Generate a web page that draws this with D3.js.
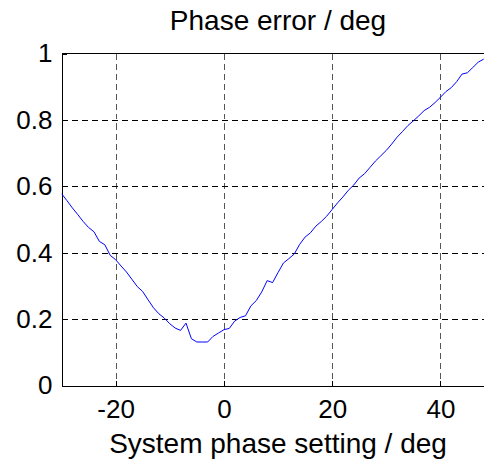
<!DOCTYPE html>
<html>
  <head>
    <title>Phase error</title>
    <script src="https://cdn.jsdelivr.net/npm/d3@7"></script>
    <style type="text/css">
      body {
        margin: 0;
        background: #fff;
        overflow: hidden;
      }

      text {
        font-family: "Liberation Sans", Arial, Helvetica, sans-serif;
        fill: #000;
      }

      .axis path, .axis line {
        stroke: #000;
        shape-rendering: crispEdges;
      }

      .axis text {
        font-size: 26px;
      }

      .label {
        font-size: 28px;
      }

      .grid-x {
        stroke: #555;
        stroke-dasharray: 6,4;
        shape-rendering: crispEdges;
      }

      .grid-y {
        stroke: #000;
        stroke-dasharray: 6,4;
        shape-rendering: crispEdges;
      }

      .line {
        fill: none;
        stroke: #0000ff;
        stroke-width: 1px;
      }
    </style>
  </head>
<body>
  <div id="chart"></div>
  <script type="text/javascript">
    // system phase setting (deg)
    var phaseSetting = [
      -30, -29, -28, -27, -26, -25, -24, -23, -22, -21,
      -20, -19, -18, -17, -16, -15, -14, -13, -12, -11,
      -10, -9, -8, -7, -6, -5, -4, -3, -2, -1,
      0, 1, 2, 3, 4, 5, 6, 7, 8, 9,
      10, 11, 12, 13, 14, 15, 16, 17, 18, 19,
      20, 21, 22, 23, 24, 25, 26, 27, 28, 29,
      30, 31, 32, 33, 34, 35, 36, 37, 38, 39,
      40, 41, 42, 43, 44, 45, 46, 47, 48
    ];
    // phase error (deg)
    var phaseError = [
      0.578, 0.557, 0.535, 0.515, 0.494, 0.476, 0.463, 0.434, 0.424, 0.392,
      0.379, 0.360, 0.342, 0.320, 0.298, 0.283, 0.258, 0.234, 0.216, 0.203,
      0.186, 0.173, 0.166, 0.188, 0.141, 0.131, 0.131, 0.131, 0.148, 0.158,
      0.168, 0.172, 0.194, 0.205, 0.210, 0.240, 0.256, 0.282, 0.316, 0.310,
      0.340, 0.369, 0.382, 0.396, 0.425, 0.447, 0.460, 0.480, 0.494, 0.510,
      0.530, 0.550, 0.568, 0.588, 0.604, 0.625, 0.638, 0.657, 0.676, 0.692,
      0.708, 0.727, 0.748, 0.765, 0.783, 0.797, 0.812, 0.828, 0.838, 0.852,
      0.868, 0.885, 0.897, 0.915, 0.938, 0.942, 0.958, 0.974, 0.983
    ];
    var xTicks = [-20, 0, 20, 40];
    var yTicks = [0, 0.2, 0.4, 0.6, 0.8, 1];
    var yTickLabels = ["0", "0.2", "0.4", "0.6", "0.8", "1"];

    var width = 484, height = 460;
    var plotLeft = 61.5, plotRight = 494.5, plotTop = 53.5, plotBottom = 385.5;

    var svg = d3.select("#chart")
      .append("svg")
      .attr("width", width)
      .attr("height", height);

    var x = d3.scaleLinear().domain([-30, 50]).range([plotLeft, plotRight]);
    var y = d3.scaleLinear().domain([0, 1]).range([plotBottom, plotTop]);

    svg.append("defs").append("clipPath")
      .attr("id", "plot-clip")
      .append("rect")
      .attr("x", plotLeft)
      .attr("y", plotTop)
      .attr("width", plotRight - plotLeft)
      .attr("height", plotBottom - plotTop);

    // grid
    svg.append("g").selectAll("line")
      .data(xTicks)
      .enter().append("line")
      .attr("class", "grid-x")
      .attr("x1", function(d) { return Math.round(x(d)) + 0.5; })
      .attr("x2", function(d) { return Math.round(x(d)) + 0.5; })
      .attr("y1", plotTop)
      .attr("y2", plotBottom);

    svg.append("g").selectAll("line")
      .data(yTicks.slice(1, -1))
      .enter().append("line")
      .attr("class", "grid-y")
      .attr("x1", plotLeft)
      .attr("x2", plotRight)
      .attr("y1", function(d) { return Math.round(y(d)) + 0.5; })
      .attr("y2", function(d) { return Math.round(y(d)) + 0.5; });

    // axes (ticks point inward like matlab)
    var xAxis = svg.append("g")
      .attr("class", "axis")
      .attr("transform", "translate(0," + plotBottom + ")")
      .call(d3.axisBottom(x).tickValues(xTicks).tickSizeInner(-5).tickSizeOuter(0).tickPadding(8)
        .tickFormat(function(d) { return d < 0 ? "-" + Math.abs(d) : d; }));
    xAxis.selectAll("text").attr("y", 32).attr("dy", null);

    svg.append("g")
      .attr("class", "axis")
      .attr("transform", "translate(" + plotLeft + ",0)")
      .call(d3.axisLeft(y).tickValues(yTicks).tickSizeInner(-5).tickSizeOuter(0).tickPadding(9)
        .tickFormat(function(d, i) { return yTickLabels[i]; }))
      .selectAll("text").attr("dy", "0.32em");

    // top border
    svg.append("line")
      .attr("x1", plotLeft)
      .attr("x2", plotRight)
      .attr("y1", plotTop)
      .attr("y2", plotTop)
      .style("stroke", "#000")
      .style("shape-rendering", "crispEdges");

    // the curve
    var line = d3.line()
      .x(function(d, i) { return x(phaseSetting[i]); })
      .y(function(d) { return y(d); });

    svg.append("path")
      .datum(phaseError)
      .attr("class", "line")
      .attr("clip-path", "url(#plot-clip)")
      .attr("d", line);

    // titles
    svg.append("text")
      .attr("class", "label")
      .attr("x", (plotLeft + plotRight) / 2)
      .attr("y", 30)
      .attr("text-anchor", "middle")
      .text("Phase error / deg");

    svg.append("text")
      .attr("class", "label")
      .attr("x", (plotLeft + plotRight) / 2)
      .attr("y", 453)
      .attr("text-anchor", "middle")
      .text("System phase setting / deg");
  </script>
</body>
</html>
